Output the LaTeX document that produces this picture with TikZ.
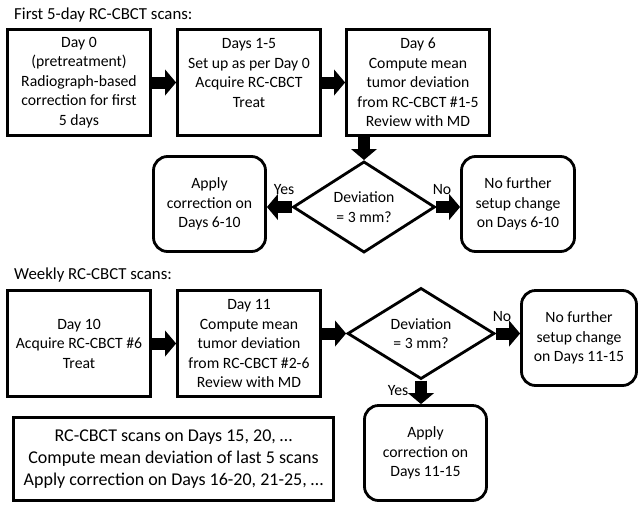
\documentclass[tikz,border=0pt]{standalone}
\usepackage{fontspec}
\setmainfont{Carlito}
\usetikzlibrary{arrows.meta,shapes.geometric}
\begin{document}
\begin{tikzpicture}[x=1pt,y=-1pt,
  every node/.style={font=\fontsize{15.7}{19.5}\selectfont, text=black},
  sqbox/.style={draw, line width=2.8pt, align=center, inner sep=0pt},
  rbox/.style={sqbox, rounded corners=14pt},
  dec/.style={draw, diamond, line width=2.8pt, align=center, inner sep=0pt},
  blk/.style={line width=12pt, -{Triangle[width=26pt,length=11pt,line width=0pt]}},
  lbl/.style={inner sep=0pt, anchor=base},
  ttl/.style={inner sep=0pt, anchor=base west, font=\fontsize{16.8}{20}\selectfont}]
\useasboundingbox (0,0) rectangle (640,504);
% titles
\node[ttl] (t1) at (14,19) {First 5-day RC-CBCT scans:};
\node[ttl] (t2) at (14,279) {Weekly RC-CBCT scans:};
% top section
\node[sqbox, minimum width=143pt, minimum height=106pt] (b1) at (79,82.5)
  {Day 0\\(pretreatment)\\Radiograph-based\\correction for first\\5 days};
\node[sqbox, minimum width=143pt, minimum height=106pt] (b2) at (249,82.5)
  {Days 1-5\\Set up as per Day 0\\Acquire RC-CBCT\\Treat\\~};
\node[sqbox, minimum width=143pt, minimum height=106pt] (b3) at (418,82.5)
  {Day 6\\Compute mean\\tumor deviation\\from RC-CBCT \#1-5\\Review with MD};
\node[dec, minimum width=142pt, minimum height=88pt] (d1) at (364,207)
  {Deviation\\= 3 mm?};
\node[rbox, minimum width=112pt, minimum height=95pt] (a1) at (209.5,204)
  {Apply\\correction on\\Days 6-10};
\node[rbox, minimum width=113pt, minimum height=95pt] (n1) at (518,204)
  {No further\\setup change\\on Days 6-10};
\draw[blk] (b1.east) -- (b2.west);
\draw[blk] (b2.east) -- (b3.west);
\draw[blk] (d1.north |- b3.south) -- (d1.north);
\draw[blk] (d1.west) -- (d1.west -| a1.east);
\draw[blk] (d1.east) -- (d1.east -| n1.west);
\node[lbl] (y1) at (284,194) {Yes};
\node[lbl] (no1) at (442,194) {No};
% bottom section
\node[sqbox, minimum width=143pt, minimum height=106pt] (b4) at (79,343.5)
  {Day 10\\Acquire RC-CBCT \#6\\Treat};
\node[sqbox, minimum width=143pt, minimum height=106pt] (b5) at (249,343.5)
  {Day 11\\Compute mean\\tumor deviation\\from RC-CBCT \#2-6\\Review with MD};
\node[dec, minimum width=147pt, minimum height=86pt] (d2) at (421,333.5)
  {Deviation\\= 3 mm?};
\node[rbox, minimum width=115pt, minimum height=95pt] (n2) at (579,338)
  {No further\\setup change\\on Days 11-15};
\node[rbox, minimum width=122pt, minimum height=95pt] (a2) at (425.5,453)
  {Apply\\correction on\\Days 11-15};
\node[sqbox, minimum width=320pt, minimum height=83pt,
  font=\fontsize{18}{22}\selectfont] (b6) at (173.5,459)
  {RC-CBCT scans on Days 15, 20, …\\Compute mean deviation of last 5 scans\\Apply correction on Days 16-20, 21-25, …};
\draw[blk] (b4.east) -- (b5.west);
\draw[blk] (b5.east |- d2.west) -- (d2.west);
\draw[blk] (d2.east) -- (d2.east -| n2.west);
\draw[blk] (d2.south) -- (d2.south |- a2.north);
\node[lbl] (no2) at (502,321) {No};
\node[lbl] (y2) at (398,395) {Yes};
\end{tikzpicture}
\end{document}
